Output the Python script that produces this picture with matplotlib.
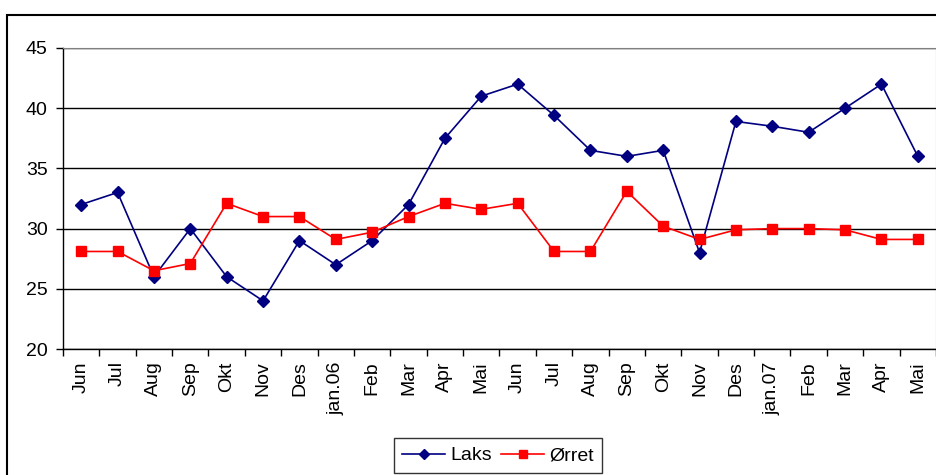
import matplotlib.pyplot as plt
from matplotlib.patches import Rectangle

plt.rcParams['font.family'] = ['Liberation Sans', 'DejaVu Sans']

months = ["Jun", "Jul", "Aug", "Sep", "Okt", "Nov", "Des", "jan.06",
          "Feb", "Mar", "Apr", "Mai", "Jun", "Jul", "Aug", "Sep",
          "Okt", "Nov", "Des", "jan.07", "Feb", "Mar", "Apr", "Mai"]
laks = [32, 33, 26, 30, 26, 24, 29, 27, 29, 32, 37.5, 41,
        42, 39.4, 36.5, 36, 36.5, 28, 38.9, 38.5, 38, 40, 42, 36]
orret = [28.1, 28.1, 26.5, 27.1, 32.1, 31, 31, 29.1, 29.7, 31, 32.1, 31.6,
         32.1, 28.1, 28.1, 33.1, 30.2, 29.1, 29.9, 30, 30, 29.9, 29.1, 29.1]

fig = plt.figure(figsize=(9.37, 4.75), dpi=100)
ax = fig.add_axes([63 / 937, 1 - 349 / 475, 873 / 937, 301 / 475])

x = list(range(len(months)))
ax.plot(x, laks, color="#000080", lw=1.2, marker="D", ms=6, label="Laks")
ax.plot(x, orret, color="#FF0000", lw=1.2, marker="s", ms=6.5, label="Ørret")

ax.set_xlim(-0.5, len(months) - 0.5)
ax.set_ylim(20, 45)
ax.set_yticks(range(20, 46, 5))
ax.set_xticks(x)
ax.set_xticklabels(months, rotation=90, fontsize=14)
ax.tick_params(axis="x", length=0, pad=9)
# category boundary ticks
ax.set_xticks([i - 0.5 for i in range(len(months) + 1)], minor=True)
ax.tick_params(axis="x", which="minor", length=5, width=1, direction="out")
ax.tick_params(axis="y", length=5, width=1, labelsize=14, pad=6)
ax.yaxis.grid(True, color="black", lw=1)
ax.set_axisbelow(True)
for side in ("top", "right"):
    ax.spines[side].set_color("#808080")
for side in ("left", "bottom"):
    ax.spines[side].set_color("black")
    ax.spines[side].set_linewidth(1)

leg = fig.legend(loc="upper center", bbox_to_anchor=(498 / 937, 1 - 438 / 475),
                 ncol=2, fontsize=14, frameon=True, fancybox=False,
                 edgecolor="black", handlelength=2.2, handletextpad=0.25,
                 columnspacing=0.5, borderpad=0.45, borderaxespad=0,
                 markerscale=0.8)
leg.get_frame().set_linewidth(1)

fig.patches.append(Rectangle((7 / 937, -0.1), 1.2, 1.1 - 15 / 475,
                             transform=fig.transFigure, fill=False,
                             lw=1.5, edgecolor="black", clip_on=False))

fig.savefig("out.png", dpi=100)
